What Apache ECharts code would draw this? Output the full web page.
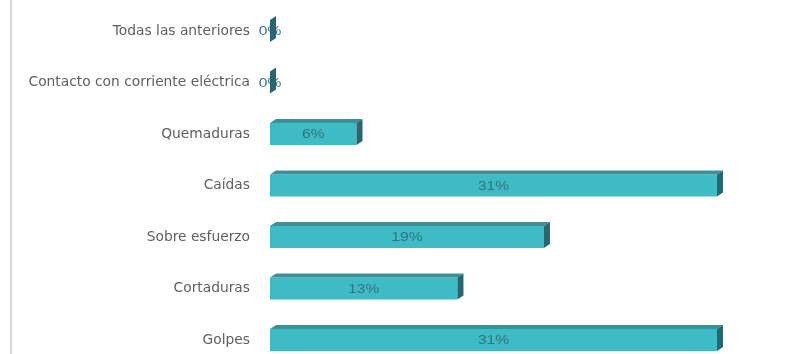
<!DOCTYPE html>
<html>
<head>
<meta charset="utf-8">
<script src="https://cdn.jsdelivr.net/npm/echarts@6/dist/echarts.min.js"></script>
<style>
  html, body { margin: 0; padding: 0; background: #ffffff; }
  #chart { width: 798px; height: 354px; }
</style>
</head>
<body>
<div id="chart"></div>
<script>
// Accident types (top to bottom) and their share in percent
const categories = [
  'Todas las anteriores',
  'Contacto con corriente eléctrica',
  'Quemaduras',
  'Caídas',
  'Sobre esfuerzo',
  'Cortaduras',
  'Golpes'
];
const percentages = [0, 0, 6, 31, 19, 13, 31];

const FRONT = '#3ebcc6';
const TOP = '#3b9199';
const SIDE = '#2a666d';

const chart = echarts.init(document.getElementById('chart'));

// Box-style bar: front face, top face, value text, right end face
function renderBox(params, api) {
  const v = api.value(0);
  const ci = api.value(1);
  const start = api.coord([0, ci]);
  const end = api.coord([v, ci]);
  const band = api.size([0, 1])[1];
  const h = band * 0.43;
  const dx = 6, dy = 4;
  const x0 = start[0], x1 = end[0], yc = start[1];
  const yT = yc - h / 2, yB = yc + h / 2;
  return {
    type: 'group',
    children: [
      { type: 'rect', shape: { x: x0, y: yT, width: x1 - x0, height: h }, style: { fill: FRONT } },
      { type: 'polygon', shape: { points: [[x0, yT], [x0 + dx, yT - dy], [x1 + dx, yT - dy], [x1, yT]] }, style: { fill: TOP } },
      {
        type: 'text',
        x: (x0 + x1) / 2, y: yc + 1,
        scaleX: 1.3,
        style: {
          text: v + '%', align: 'center', verticalAlign: 'middle',
          fill: '#33727a', font: '12px "Liberation Sans", Arial, sans-serif'
        }
      },
      { type: 'polygon', shape: { points: [[x1, yT], [x1 + dx, yT - dy], [x1 + dx, yB - dy], [x1, yB]] }, style: { fill: SIDE } }
    ]
  };
}

chart.setOption({
  animation: false,
  backgroundColor: '#ffffff',
  grid: { left: 270, right: 81, top: 5.25, height: 360.5, outerBoundsMode: 'none', containLabel: false },
  xAxis: {
    type: 'value', min: 0, max: 31,
    show: false
  },
  yAxis: {
    type: 'category',
    data: categories,
    inverse: true,
    axisLine: { show: false },
    axisTick: { show: false },
    splitLine: { show: false },
    axisLabel: {
      margin: 20,
      color: '#5e5e5e',
      fontFamily: '"DejaVu Sans", sans-serif',
      fontSize: 13.8
    }
  },
  graphic: [
    { type: 'line', shape: { x1: 11, y1: 0, x2: 11, y2: 354 }, style: { stroke: '#d6d6d6', lineWidth: 2 } }
  ],
  series: [{
    type: 'custom',
    clip: false,
    renderItem: renderBox,
    encode: { x: 0, y: 1 },
    data: percentages.map((p, i) => [p, i])
  }]
});
</script>
</body>
</html>
